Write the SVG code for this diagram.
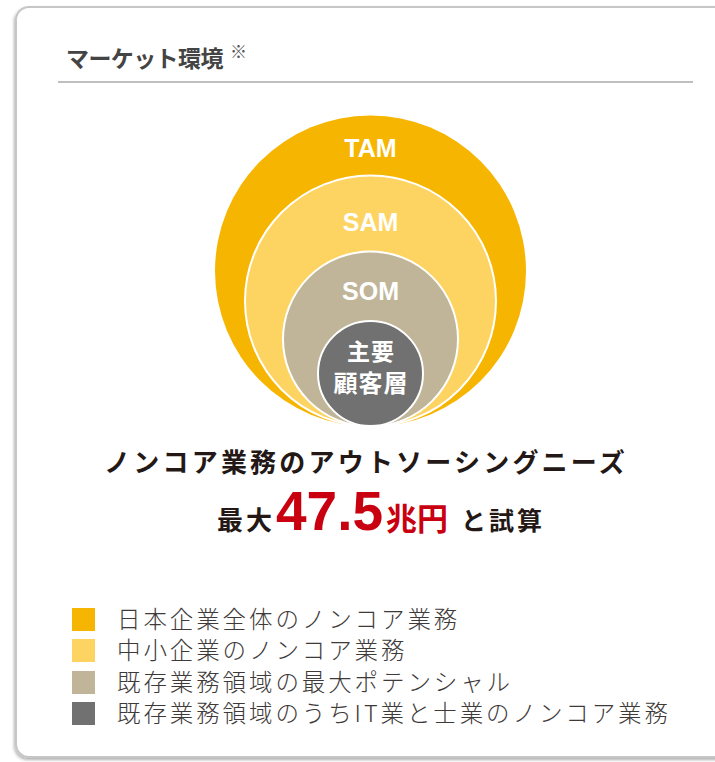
<svg xmlns="http://www.w3.org/2000/svg" width="715" height="762" viewBox="0 0 715 762">
<defs>
<filter id="sh" x="-5%" y="-5%" width="110%" height="110%">
<feDropShadow dx="-1" dy="2" stdDeviation="1.5" flood-color="#000" flood-opacity="0.3"/>
</filter>
</defs>
<style>
.cjk{font-family:"Noto Sans CJK JP","Noto Sans",sans-serif}
.lat{font-family:"Liberation Sans","Noto Sans",Arial,sans-serif;font-weight:bold}
.lbl{fill:#fff;font-size:25px;text-anchor:middle}
.leg{font-size:23.5px;font-weight:300;fill:#3e3a39;letter-spacing:2.9px}
.ring{stroke:#fff;stroke-width:2}
</style>
<rect width="715" height="762" fill="#fff"/>
<g id="card">
<rect x="16" y="7" width="760" height="750" rx="13" ry="13" fill="#fff" stroke="#c6c6c6" stroke-width="2" filter="url(#sh)"/>
</g>
<g id="title">
<text x="66" y="67" class="cjk" font-size="23" font-weight="bold" fill="#444" letter-spacing="-0.6">マーケット環境</text>
<text x="230" y="58" class="cjk" font-size="17" fill="#555">※</text>
<line x1="58" y1="82" x2="693" y2="82" stroke="#aaa" stroke-width="1.5"/>
</g>
<g id="tam">
<circle cx="370.5" cy="271" r="155.5" fill="#F6B500"/>
<text x="370.5" y="157" class="lat lbl">TAM</text>
</g>
<g id="sam">
<circle cx="370.5" cy="301" r="125.5" fill="#FDD461" class="ring"/>
<text x="370.5" y="231" class="lat lbl">SAM</text>
</g>
<g id="som">
<circle cx="370.5" cy="339" r="87.5" fill="#C1B599" class="ring"/>
<text x="370.5" y="300" class="lat lbl">SOM</text>
</g>
<g id="core">
<circle cx="370.5" cy="373.5" r="52.5" fill="#717171" class="ring"/>
<text x="371" y="360" class="cjk" font-size="23" font-weight="bold" fill="#fff" text-anchor="middle" letter-spacing="1">主要</text>
<text x="371" y="392" class="cjk" font-size="24" font-weight="bold" fill="#fff" text-anchor="middle" letter-spacing="1">顧客層</text>
</g>
<g id="headline">
<text x="366" y="472" class="cjk" font-size="26" font-weight="bold" fill="#231815" text-anchor="middle" letter-spacing="3.2">ノンコア業務のアウトソーシングニーズ</text>
<text y="530" class="cjk" font-weight="bold" fill="#231815"><tspan x="217" font-size="26" letter-spacing="3">最大</tspan><tspan x="276" font-size="55" fill="#C8000F" font-family="Liberation Sans, Arial, sans-serif" letter-spacing="0">47.5</tspan><tspan x="386" font-size="31" fill="#C8000F">兆円</tspan><tspan x="461" font-size="25" letter-spacing="3">と試算</tspan></text>
</g>
<g id="legend">
<rect x="72" y="608" width="23" height="23" fill="#F6B500"/>
<text x="117" y="628" class="cjk leg">日本企業全体のノンコア業務</text>
<rect x="72" y="639" width="23" height="23" fill="#FDD461"/>
<text x="117" y="659" class="cjk leg">中小企業のノンコア業務</text>
<rect x="72" y="671" width="23" height="23" fill="#C1B599"/>
<text x="117" y="691" class="cjk leg">既存業務領域の最大ポテンシャル</text>
<rect x="72" y="702" width="23" height="23" fill="#717171"/>
<text x="117" y="722" class="cjk leg">既存業務領域のうちIT業と士業のノンコア業務</text>
</g>
<g id="connectors"></g>
</svg>
